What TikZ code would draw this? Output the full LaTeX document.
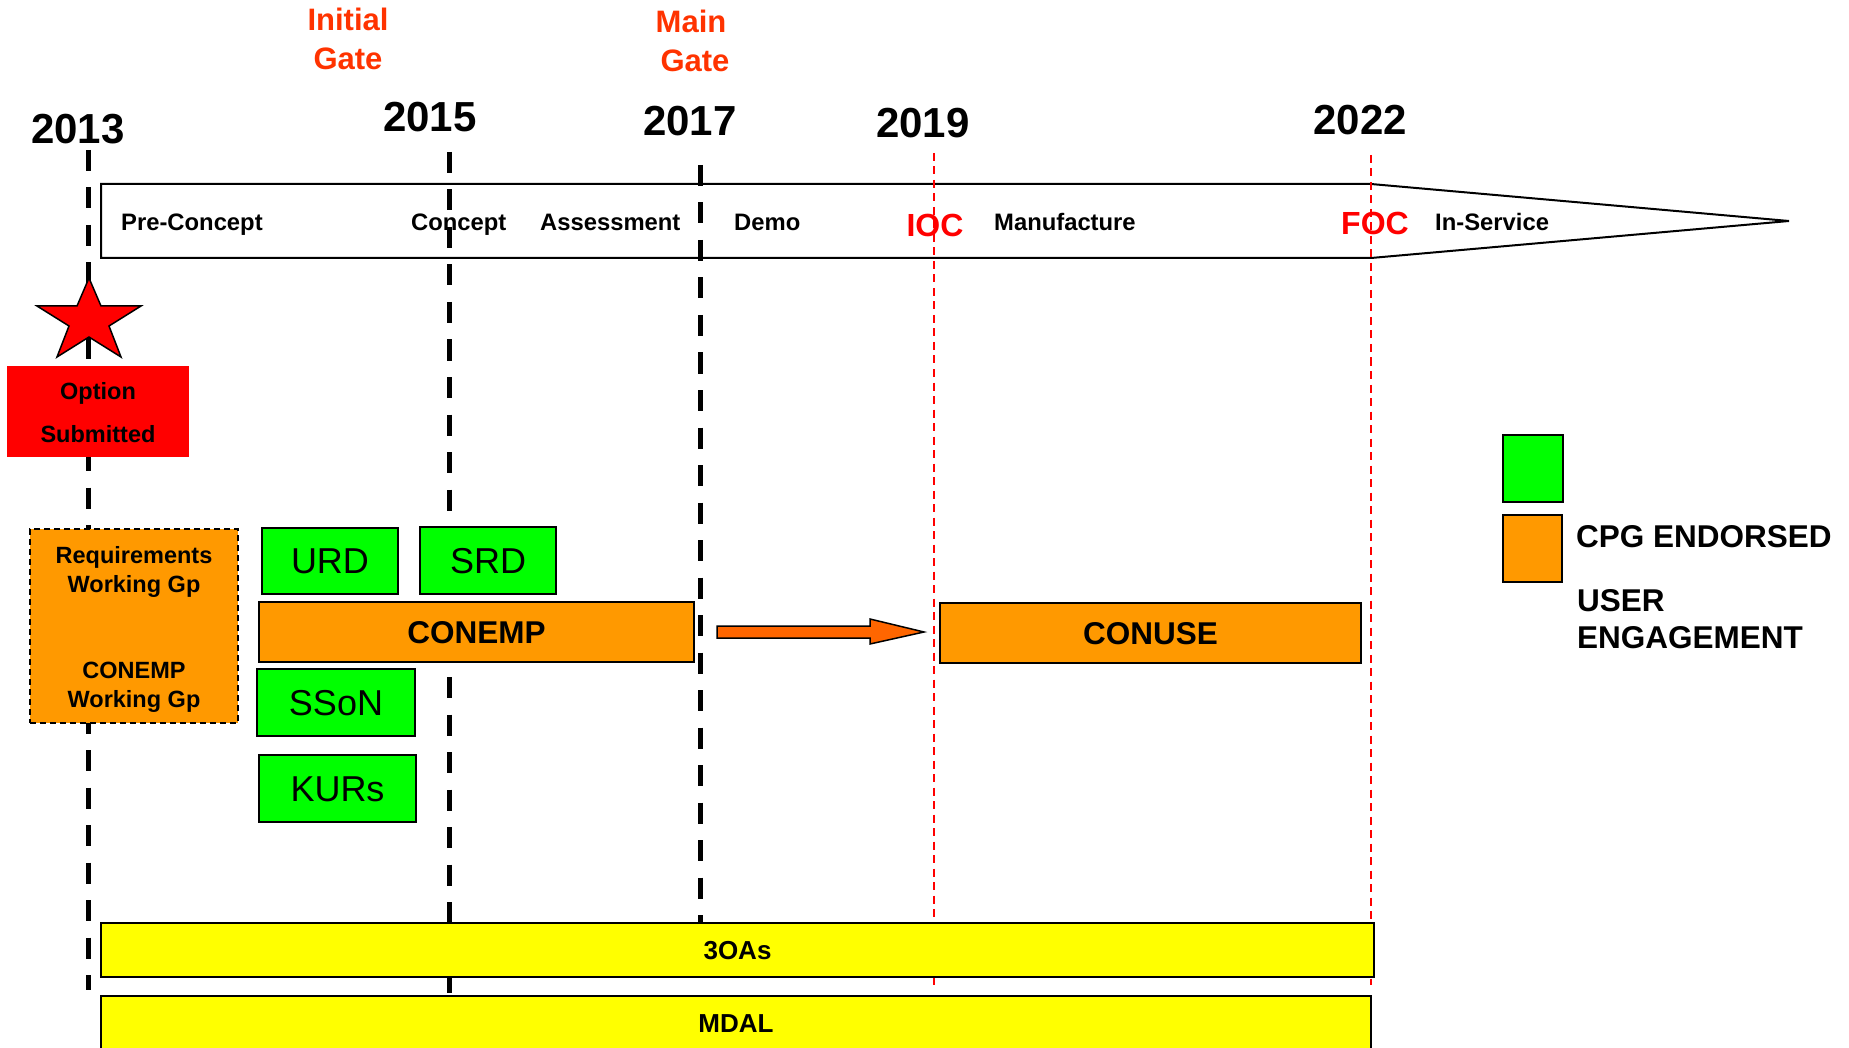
\documentclass[tikz,border=0pt]{standalone}
\usepackage{fontspec}
\setmainfont{Liberation Sans}
\usetikzlibrary{calc}
\definecolor{gatered}{RGB}{255,51,0}
\definecolor{ocolor}{RGB}{255,153,0}
\definecolor{gcolor}{RGB}{0,255,0}
\definecolor{ycolor}{RGB}{255,255,0}
\definecolor{acolor}{RGB}{255,102,0}
\begin{document}
\begin{tikzpicture}[x=1pt,y=-1pt,
  yearlbl/.style={font=\fontsize{42}{48}\selectfont\bfseries, anchor=base, inner sep=0pt},
  gatelbl/.style={font=\fontsize{31}{36}\selectfont\bfseries, text=gatered, anchor=base, inner sep=0pt},
  phaselbl/.style={font=\fontsize{23.8}{28}\selectfont\bfseries, anchor=base west, inner sep=0pt},
  milelbl/.style={font=\fontsize{32}{36}\selectfont\bfseries, text=red, anchor=base, inner sep=0pt},
  smalllbl/.style={font=\fontsize{23.5}{28}\selectfont\bfseries, anchor=base, inner sep=0pt},
  legendlbl/.style={font=\fontsize{31.5}{36}\selectfont\bfseries, anchor=base west, inner sep=0pt},
  yearline/.style={line width=5pt, dash pattern=on 21pt off 16.5pt},
  redline/.style={red, line width=1.5pt, dash pattern=on 8pt off 5.5pt},
  greenbox/.style={draw, fill=gcolor, line width=2pt, inner sep=0pt, font=\fontsize{36}{40}\selectfont, text height=25.8pt, text depth=0pt},
  orangebox/.style={draw, fill=ocolor, line width=2pt, inner sep=0pt, font=\fontsize{31.5}{36}\selectfont\bfseries, text height=22.6pt, text depth=0pt},
  yellowbar/.style={draw, fill=ycolor, line width=2pt, inner sep=0pt, font=\fontsize{26}{30}\selectfont\bfseries, text height=18.6pt, text depth=0pt},
  blockarrow/.style={draw, fill=acolor, line width=1.5pt, line join=miter},
  phasebox/.style={draw, line width=2pt, line join=miter},
  starshape/.style={draw, fill=red, line width=1.5pt, line join=miter}
]
\useasboundingbox (0,0) rectangle (1849,1048);

% gate labels
\node[gatelbl] (ig1) at (348,30.7) {Initial};
\node[gatelbl] (ig2) at (348,70) {Gate};
\node[gatelbl] (mg1) at (691,32.7) {Main};
\node[gatelbl] (mg2) at (695,71.7) {Gate};

% years
\node[yearlbl] (y13) at (78,143.3) {2013};
\node[yearlbl] (y15) at (430,131.7) {2015};
\node[yearlbl] (y17) at (690,136) {2017};
\node[yearlbl] (y19) at (923,137.3) {2019};
\node[yearlbl] (y22) at (1360,134.3) {2022};

% phase arrow box
\draw[phasebox] (101,184) -- (1371,184) -- (1789,221) -- (1371,258) -- (101,258) -- cycle;
\node[phaselbl] (pre) at (121,231) {Pre-Concept};
\node[phaselbl] (con) at (411,231) {Concept};
\node[phaselbl] (ass) at (540,231) {Assessment};
\node[phaselbl] (dem) at (734,231) {Demo};
\node[phaselbl] (man) at (994,231) {Manufacture};
\node[phaselbl] (ins) at (1435,231) {In-Service};
\node[milelbl] (ioc) at (935,236.5) {IOC};
\node[milelbl] (foc) at (1375,234.5) {FOC};

% vertical lines
\coordinate (l13a) at (88,150);  \coordinate (l13b) at (88,990);
\coordinate (l15a) at (449,152); \coordinate (l15b) at (449,993);
\coordinate (l17a) at (700,165); \coordinate (l17b) at (700,989);
\coordinate (l19a) at (934,153); \coordinate (l19b) at (934,987);
\coordinate (l22a) at (1371,155); \coordinate (l22b) at (1371,985);
\draw[yearline] (l13a) -- (l13b);
\draw[yearline] (l15a) -- (l15b);
\draw[yearline] (l17a) -- (l17b);
\draw[redline] (l19a) -- (l19b);
\draw[redline] (l22a) -- (l22b);

% star
\draw[starshape] (89,278) -- (101,306) -- (141,306) -- (109,326) -- (121,357) -- (89,337)
  -- (57,357) -- (69,326) -- (37,306) -- (77,306) -- cycle;

% option submitted
\node[fill=red, minimum width=182pt, minimum height=91pt, inner sep=0pt] (opt) at (98,411.5) {};
\node[smalllbl] (opt1) at (98,399.5) {Option};
\node[smalllbl] (opt2) at (98,442) {Submitted};

% working groups box
\node[draw, fill=ocolor, line width=1.5pt, dash pattern=on 6pt off 4pt, minimum width=208pt, minimum height=194pt, inner sep=0pt] (req) at (134,626) {};
\node[smalllbl] (req1) at (134,563.5) {Requirements};
\node[smalllbl] (req2) at (134,592) {Working Gp};
\node[smalllbl] (req3) at (134,678) {CONEMP};
\node[smalllbl] (req4) at (134,707) {Working Gp};

% green boxes
\node[greenbox, minimum width=136pt, minimum height=66pt] (urd) at (330,561) {URD};
\node[greenbox, minimum width=136pt, minimum height=67pt] (srd) at (488,560.5) {SRD};
\node[greenbox, minimum width=158pt, minimum height=67pt] (sson) at (336,702.5) {SSoN};
\node[greenbox, minimum width=157pt, minimum height=67pt] (kurs) at (337.5,788.5) {KURs};

% orange boxes
\node[orangebox, minimum width=435pt, minimum height=60pt] (conemp) at (476.5,632) {CONEMP};
\node[orangebox, minimum width=421pt, minimum height=60pt] (conuse) at (1150.5,633) {CONUSE};

% block arrow
\coordinate (arrS) at ($(conemp.east)+(22,0)$);
\coordinate (arrT) at ($(conuse.west)+(-15,-1)$);
\draw[blockarrow] ($(arrS)+(0,-6)$) -- ($(arrT)+(-54,-6)$) -- ($(arrT)+(-54,-13)$) -- (arrT)
  -- ($(arrT)+(-54,12)$) -- ($(arrT)+(-54,6)$) -- ($(arrS)+(0,6)$) -- cycle;

% yellow bars
\node[yellowbar, minimum width=1273pt, minimum height=54pt] (oas) at (737.5,950) {3OAs};
\node[yellowbar, minimum width=1270pt, minimum height=54pt] (mdal) at (736,1023) {MDAL};

% legend
\node[draw, fill=gcolor, line width=2pt, minimum width=60pt, minimum height=67pt, inner sep=0pt] (leggreen) at (1533,468.5) {};
\node[draw, fill=ocolor, line width=2pt, minimum width=59pt, minimum height=67pt, inner sep=0pt] (legorange) at (1532.5,548.5) {};
\node[legendlbl] (cpg) at (1576,547.5) {CPG ENDORSED};
\node[legendlbl] (user) at (1577,611) {USER};
\node[legendlbl] (eng) at (1577,648.3) {ENGAGEMENT};
\end{tikzpicture}
\end{document}
